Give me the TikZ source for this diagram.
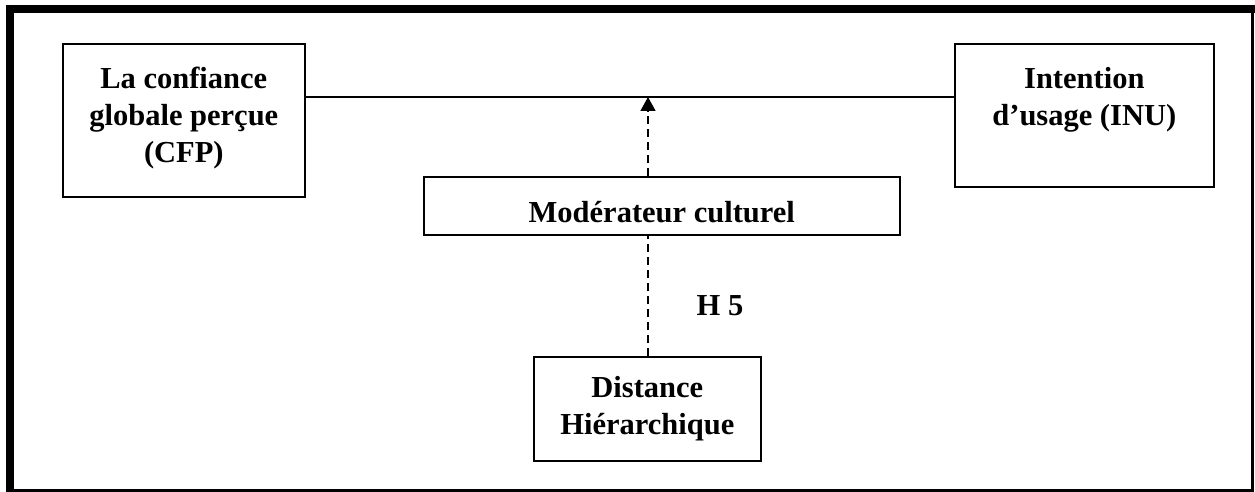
\documentclass[tikz,border=0pt]{standalone}
\usepackage{fontspec}
\setmainfont{Liberation Serif}
\usetikzlibrary{positioning,arrows.meta}

\tikzset{
  box/.style={draw, line width=1.6pt, inner sep=0pt},
  lbl/.style={font=\bfseries\fontsize{30.5}{37}\selectfont, align=center, inner sep=0pt},
  modline/.style={line width=1.6pt, dash pattern=on 8pt off 5pt},
}

\begin{document}
\begin{tikzpicture}[x=1pt,y=-1pt]
		\useasboundingbox (0,0) rectangle (1255,492);
		% outer frame
		\draw[line width=8pt] (10,492) -- (10,5);
		\draw[line width=7.5pt] (6,9) -- (1255,9);
		\draw[line width=3pt] (1252.5,9) -- (1252.5,490.5) -- (10,490.5);
		
		% boxes
		\node[box, anchor=north west, minimum width=242pt, minimum height=153pt] (cfp) at (62,43) {};
		\node[box, anchor=north west, minimum width=259pt, minimum height=143pt] (inu) at (954,43) {};
		\node[box, anchor=north west, minimum width=476pt, minimum height=58pt] (mod) at (423,176) {};
		\node[box, anchor=north west, minimum width=227pt, minimum height=104pt] (dh) at (533,356) {};
		
		\node[lbl, below=24pt of cfp.north] (cfptxt) {La confiance\\globale perçue\\(CFP)};
		\node[lbl, below=24pt of inu.north] (inutxt) {Intention\\d’usage (INU)};
		\node[lbl] (modtxt) at ([yshift=-6pt]mod.center) {Modérateur culturel};
		\node[lbl] (dhtxt) at (dh.center) {Distance\\Hiérarchique};
		\node[lbl] (h5) at (720,306) {H 5};
		
		\coordinate (m) at (648,97);
		\draw[line width=1.6pt] (cfp.east |- m) -- (inu.west |- m);
		\draw[modline, -{Triangle[length=14pt,width=15pt]}] (mod.north -| m) -- (m);
		\draw[modline] (dh.north -| m) -- (mod.south -| m);
		
	\end{tikzpicture}
\end{document}
